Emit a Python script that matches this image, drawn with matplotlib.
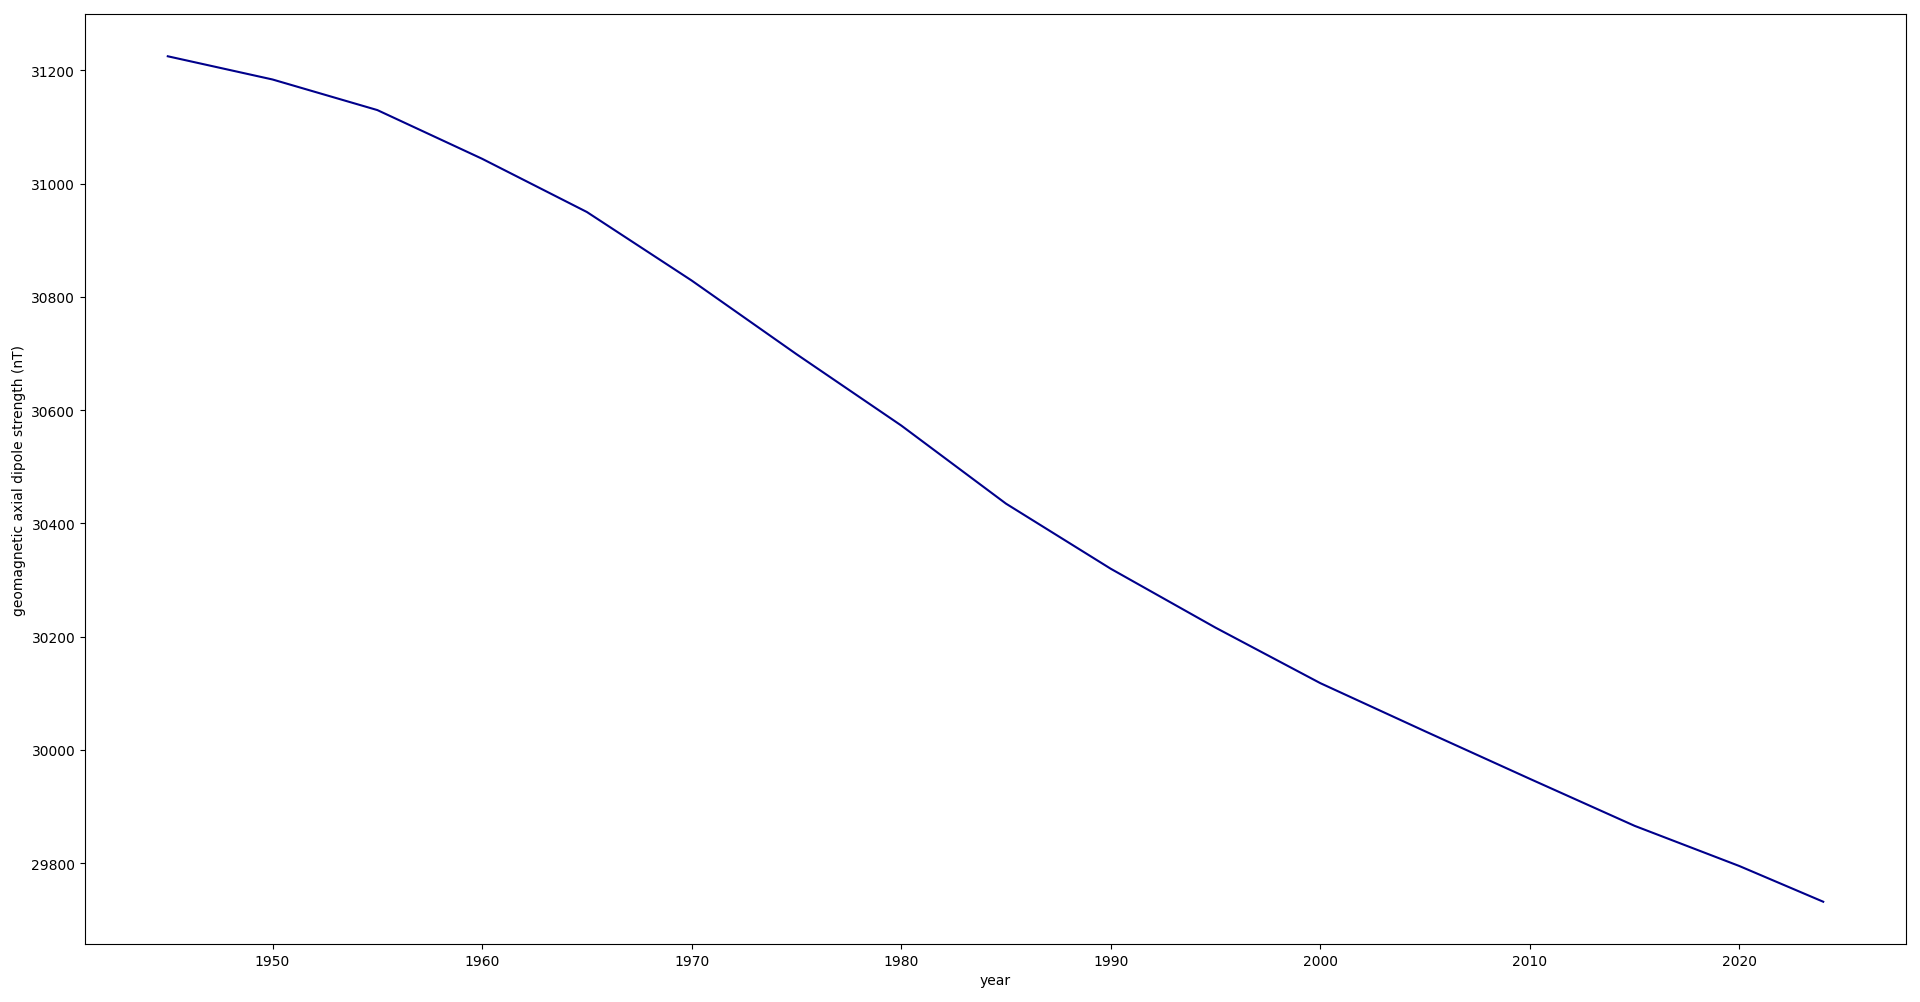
import matplotlib
matplotlib.use("Agg")
import matplotlib.pyplot as plt

years = [1945, 1950, 1955, 1960, 1965, 1970, 1975, 1980, 1985, 1990,
         1995, 2000, 2005, 2010, 2015, 2020, 2024]
dipole_nT = [31225, 31184, 31130, 31044, 30950, 30829, 30699, 30573, 30435, 30320,
             30216, 30118, 30033, 29949, 29866, 29795, 29732]

fig = plt.figure(figsize=(19.2, 10.03), dpi=100)
ax = fig.add_axes([85 / 1920, 58 / 1003, (1906 - 85) / 1920, 930 / 1003])
ax.plot(years, dipole_nT, color="darkblue", linewidth=1.5)
ax.set_xlabel("year")
ax.set_ylabel("geomagnetic axial dipole strength (nT)")
fig.savefig("out.png", dpi=100)
